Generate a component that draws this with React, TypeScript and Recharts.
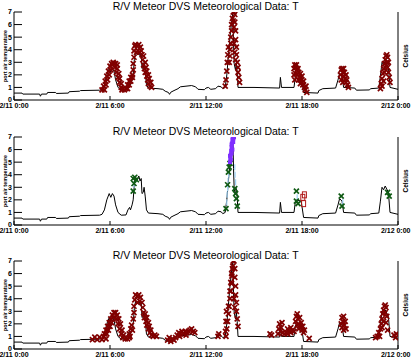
import { ComposedChart, Line, Scatter, XAxis, YAxis } from "recharts";

const hourTicks = [0, 6, 12, 18, 24];
const hourLabels = ["2/11 0:00", "2/11 6:00", "2/11 12:00", "2/11 18:00", "2/12 0:00"];
const tempTicks = [0, 1, 2, 3, 4, 5, 6, 7];
const chartTitle = "R/V Meteor DVS Meteorological Data: T";
const yLabel = "port air temperature";
const unitLabel = "Celsius";

// [hour since 2/11 0:00, temperature]
const tempLine: [number, number][] = [
  [0, 0.55], [0.5, 0.55], [0.55, 0.47], [1.6, 0.47], [1.65, 0.3], [1.72, 0.47], [2.05, 0.47], [2.1, 0.6],
  [2.6, 0.6], [2.65, 0.52], [3.4, 0.55], [3.45, 0.66], [4.1, 0.7], [4.15, 0.75], [5.35, 0.78], [5.5, 0.85],
  [5.65, 1.2], [5.8, 2.0], [5.95, 2.5], [6.05, 2.2], [6.15, 2.5], [6.25, 2.3], [6.35, 1.6], [6.5, 1.0],
  [6.7, 0.78], [7.0, 0.8], [7.12, 1.2], [7.22, 1.4], [7.28, 1.2], [7.38, 1.6], [7.45, 2.0], [7.52, 3.2],
  [7.6, 3.8], [7.7, 3.6], [7.8, 3.9], [7.88, 3.5], [7.95, 3.7], [8.0, 2.5], [8.08, 2.6], [8.13, 3.0],
  [8.2, 2.3], [8.28, 1.2], [8.4, 0.95], [9.0, 0.9], [9.3, 0.85], [9.45, 0.7], [9.65, 0.6], [9.72, 0.45],
  [9.8, 0.62], [10.0, 0.75], [10.25, 0.9], [10.4, 1.05], [11.1, 1.15], [11.35, 1.05], [11.5, 0.85], [11.9, 0.82],
  [12.0, 0.95], [12.15, 1.0], [12.3, 0.85], [12.6, 0.9], [12.75, 1.1], [12.95, 1.05], [13.05, 0.9], [13.2, 1.0],
  [13.3, 2.0], [13.4, 3.5], [13.5, 5.0], [13.6, 6.2], [13.68, 7.0], [13.72, 4.5], [13.76, 2.9], [13.84, 2.4],
  [13.9, 2.9], [13.95, 2.2], [14.0, 1.0], [15.0, 1.0], [16.6, 0.95], [16.65, 1.8], [16.72, 1.0], [17.5, 1.0],
  [17.58, 1.8], [17.65, 2.0], [17.95, 1.9], [18.1, 0.6], [19.0, 0.55], [19.05, 0.75], [19.3, 0.9], [20.1, 0.95],
  [20.25, 1.6], [20.35, 2.1], [20.5, 1.9], [20.6, 1.0], [21.3, 0.95], [21.4, 0.78], [22.2, 0.8], [22.3, 0.9],
  [22.8, 0.95], [22.9, 1.9], [23.0, 3.0], [23.1, 2.8], [23.2, 3.1], [23.4, 2.6], [23.5, 1.0], [24, 0.85],
];

// panel 1 flagged points
const redTop: [number, number][] = [
  [5.5, 0.8], [5.6, 1.1], [5.7, 1.5], [5.8, 1.9], [5.9, 2.3], [6.0, 2.7], [6.1, 2.9],
  [5.65, 0.8], [5.75, 1.2], [5.85, 1.6], [5.95, 2.0], [6.05, 2.4], [6.15, 2.8], [6.25, 2.9],
  [6.2, 3.0], [6.35, 2.9], [6.45, 2.8],
  [6.3, 2.6], [6.4, 2.2], [6.5, 1.8], [6.6, 1.4], [6.7, 1.0], [6.75, 0.8],
  [6.45, 2.5], [6.55, 2.1], [6.6, 1.7], [6.7, 1.3], [6.8, 0.9], [6.9, 0.8],
  [7.0, 0.9], [7.1, 1.2], [7.2, 1.5], [7.3, 1.8], [7.4, 2.0], [7.1, 0.9], [7.2, 1.2], [7.3, 1.5], [7.4, 1.8],
  [7.45, 2.4], [7.45, 2.9], [7.5, 3.4], [7.5, 3.9], [7.55, 4.3],
  [7.6, 4.4], [7.7, 4.3], [7.8, 4.4], [7.9, 4.2], [7.65, 3.8], [7.75, 3.9], [7.85, 3.8], [7.95, 3.9],
  [8.0, 3.6], [8.05, 3.2], [8.1, 2.8], [8.15, 2.5], [8.2, 2.2], [8.3, 1.9], [8.35, 1.6], [8.4, 1.3], [8.5, 1.1], [8.6, 1.0],
  [8.1, 3.5], [8.2, 3.0], [8.25, 2.6], [8.3, 2.3], [8.4, 2.0], [8.45, 1.7], [8.55, 1.4],
  [13.2, 1.1], [13.25, 1.6], [13.3, 2.3], [13.33, 3.0], [13.36, 3.6], [13.4, 4.2],
  [13.45, 3.0], [13.5, 3.5], [13.5, 4.0], [13.55, 4.5], [13.55, 5.0], [13.6, 5.5], [13.6, 6.0], [13.65, 6.5],
  [13.7, 7.0], [13.75, 7.0], [13.8, 6.8], [13.7, 6.3], [13.75, 5.8],
  [13.8, 6.2], [13.85, 5.5], [13.85, 4.8], [13.9, 4.2], [13.9, 3.6], [13.95, 3.0], [14.0, 2.6], [14.0, 2.2],
  [14.05, 1.8], [14.1, 1.4], [13.75, 4.5], [13.8, 3.8], [13.85, 3.2],
  [17.5, 2.0], [17.5, 2.5], [17.55, 2.8], [17.6, 2.6], [17.65, 2.8], [17.7, 2.4], [17.6, 2.1], [17.7, 2.0],
  [17.75, 2.5], [17.8, 2.2], [17.85, 1.8], [17.9, 2.1], [17.95, 1.6], [18.0, 1.9], [18.0, 1.4], [18.05, 1.2],
  [18.1, 1.5], [18.15, 1.0], [18.2, 0.8], [18.25, 1.1], [18.3, 0.6], [17.55, 1.6], [17.8, 1.6], [17.9, 1.3],
  [20.4, 2.0], [20.45, 2.4], [20.5, 2.5], [20.55, 2.2], [20.6, 2.5], [20.6, 1.9], [20.65, 2.2], [20.7, 1.7],
  [20.75, 2.0], [20.75, 1.4], [20.8, 1.6], [20.85, 1.2], [20.9, 1.0], [20.45, 1.6], [20.55, 1.4],
  [22.9, 0.9], [22.95, 1.3], [23.0, 1.7], [23.05, 2.1], [23.1, 2.5], [23.15, 2.9], [23.2, 3.2], [23.25, 3.5],
  [23.3, 3.6], [23.35, 3.4], [23.3, 3.0], [23.2, 2.6], [23.35, 2.6], [23.4, 2.2], [23.45, 1.8], [23.4, 3.0],
  [23.15, 2.2], [23.1, 1.5], [23.0, 1.1], [23.5, 1.4],
];

// panel 2 flagged points
const greenMid: [number, number][] = [
  [7.45, 3.7], [7.55, 3.8], [7.5, 3.3], [7.45, 2.7], [7.65, 3.6],
  [13.25, 1.3], [13.35, 3.2], [13.4, 4.2], [13.45, 4.6], [13.5, 4.9],
  [13.8, 2.9], [13.85, 2.5], [13.9, 2.1], [13.95, 1.5],
  [17.65, 2.7], [17.65, 1.9], [17.75, 1.7], [20.45, 2.3], [20.5, 1.5], [23.35, 2.6], [23.45, 2.3],
];
const purpleMid: [number, number][] = [
  [13.5, 5.0], [13.52, 5.3], [13.55, 5.6], [13.57, 5.9], [13.6, 6.2], [13.62, 6.5], [13.65, 6.8], [13.68, 7.0],
  [13.55, 5.2], [13.6, 5.7], [13.65, 6.0], [13.7, 6.6], [13.72, 6.9], [13.5, 5.5], [13.6, 6.4], [13.75, 7.0],
];
const blueMid: [number, number][] = [
  [7.5, 3.2], [13.3, 1.8], [13.32, 2.4], [13.35, 2.9], [13.38, 3.5], [13.42, 4.0],
  [13.8, 4.6], [13.82, 4.0], [13.85, 3.4], [17.7, 2.2], [20.55, 1.8],
];
const maroonMid: [number, number][] = [[18.05, 2.2], [18.1, 1.7], [18.15, 2.4]];

// panel 3 flagged points
const redLow: [number, number][] = [
  [4.9, 0.75], [5.05, 0.95], [5.2, 0.75], [5.35, 0.95], [5.5, 0.75], [5.6, 1.0], [5.75, 0.8],
  [5.65, 1.2], [5.75, 1.5], [5.85, 1.8], [5.95, 2.1], [6.05, 2.4], [6.15, 2.7], [6.25, 2.9],
  [5.8, 1.2], [5.9, 1.5], [6.0, 1.8], [6.1, 2.1], [6.2, 2.5], [6.35, 2.9], [6.45, 2.7],
  [6.4, 2.4], [6.5, 2.0], [6.6, 1.6], [6.7, 1.2], [6.8, 0.9], [6.55, 2.4], [6.65, 2.0], [6.75, 1.5], [6.85, 1.1],
  [6.95, 0.8], [7.1, 0.8], [7.2, 0.9],
  [7.2, 1.2], [7.3, 1.6], [7.35, 1.9], [7.25, 1.0], [7.4, 1.5],
  [7.45, 2.4], [7.5, 2.9], [7.5, 3.4], [7.55, 3.9], [7.6, 4.3],
  [7.7, 4.2], [7.8, 4.3], [7.9, 4.1], [7.7, 3.7], [7.85, 3.8], [8.0, 3.7],
  [8.05, 3.3], [8.1, 2.9], [8.15, 2.5], [8.25, 2.2], [8.3, 1.9], [8.4, 1.6], [8.5, 1.3],
  [8.2, 2.8], [8.3, 2.5], [8.4, 2.1], [8.45, 1.8], [8.55, 1.5],
  [8.6, 1.1], [8.7, 1.0], [8.8, 1.1], [8.9, 1.0],
  [9.6, 0.7], [9.7, 0.9], [9.8, 0.6], [9.9, 0.8], [10.0, 0.7], [10.1, 0.9],
  [10.2, 1.1], [10.3, 1.3], [10.4, 1.2], [10.5, 1.4], [10.6, 1.2], [10.7, 1.4], [10.8, 1.3], [10.9, 1.4],
  [11.0, 1.5], [11.1, 1.6], [11.2, 1.4], [11.3, 1.3], [10.35, 1.0], [10.75, 1.1],
  [12.8, 1.2], [12.75, 1.0],
  [13.25, 1.0], [13.3, 1.6], [13.35, 2.2], [13.4, 2.8], [13.45, 3.4], [13.5, 4.0], [13.55, 4.6], [13.6, 5.2],
  [13.62, 5.8], [13.65, 6.4], [13.7, 7.0], [13.75, 7.0], [13.4, 3.4], [13.5, 4.6], [13.55, 5.3], [13.6, 6.0],
  [13.68, 6.6], [13.22, 1.4], [13.25, 2.2], [13.28, 3.0],
  [13.8, 6.4], [13.8, 5.7], [13.85, 5.0], [13.85, 4.3], [13.9, 3.7], [13.9, 3.0], [13.95, 2.4], [14.0, 1.8],
  [13.75, 4.0], [13.8, 3.3],
  [16.0, 1.2], [16.1, 1.1],
  [16.5, 1.2], [16.55, 1.6], [16.6, 2.0], [16.65, 1.4], [16.7, 1.7], [16.8, 1.3], [16.9, 1.2], [17.0, 1.3],
  [17.1, 1.2], [17.2, 1.4], [17.3, 1.3], [17.4, 1.5], [17.5, 1.4], [16.75, 2.1], [17.1, 1.6], [17.3, 1.7],
  [17.6, 2.2], [17.65, 2.6], [17.7, 2.8], [17.75, 2.4], [17.8, 2.0], [17.85, 2.5], [17.9, 1.8], [17.95, 2.1],
  [18.0, 1.5], [18.05, 1.8], [18.1, 1.3], [18.15, 1.5], [17.7, 1.9], [17.8, 1.6],
  [18.45, 0.85],
  [20.45, 2.0], [20.5, 2.5], [20.55, 2.2], [20.6, 2.6], [20.65, 1.9], [20.7, 2.2], [20.75, 1.6], [20.6, 1.5], [20.5, 1.7],
  [22.6, 0.9], [22.7, 1.0], [22.8, 1.3], [22.9, 1.6], [22.95, 2.0], [23.0, 2.4], [23.05, 2.8], [23.1, 3.1],
  [23.15, 3.4], [23.2, 3.5], [23.25, 3.3], [23.2, 2.9], [23.3, 2.6], [23.1, 2.2], [23.0, 1.7], [23.25, 2.1],
  [23.35, 1.5], [22.85, 1.0],
  [23.75, 1.1], [23.85, 0.9], [23.9, 1.2],
];

type Kind = "x" | "box" | "rect" | "dash";
interface Marks {
  data: [number, number][];
  color: string;
  kind: Kind;
}

const toPts = (arr: [number, number][]) => arr.map(([h, v]) => ({ h, v }));

const makeShape = (kind: Kind, color: string) => (p: any) => {
  const { cx, cy } = p;
  if (cx == null || cy == null) return <g />;
  if (kind === "box") return <rect x={cx - 2} y={cy - 2} width={4} height={4} fill={color} />;
  if (kind === "rect") return <rect x={cx - 2} y={cy - 3} width={4} height={6} fill="none" stroke={color} strokeWidth={1} />;
  if (kind === "dash") return <line x1={cx} y1={cy - 3} x2={cx} y2={cy + 3} stroke={color} strokeWidth={1.2} />;
  return (
    <g stroke={color} strokeWidth={1.7}>
      <line x1={cx - 2.5} y1={cy - 2.5} x2={cx + 2.5} y2={cy + 2.5} />
      <line x1={cx - 2.5} y1={cy + 2.5} x2={cx + 2.5} y2={cy - 2.5} />
    </g>
  );
};

const tickFont = { fill: "#000", fontSize: 7, fontWeight: "bold" as const, fontFamily: "Liberation Sans" };

// bottom labels; the last one is kept inside the window edge
const HourTick = (p: any) => {
  const { x, y, payload, index } = p;
  const last = index === hourTicks.length - 1;
  return (
    <text
      x={last ? 410.5 : x}
      y={y}
      dy="0.71em"
      textAnchor={last ? "end" : "middle"}
      {...tickFont}
    >
      {hourLabels[hourTicks.indexOf(payload.value)]}
    </text>
  );
};

function Panel({ top, height, marks, lineOnTop }: { top: number; height: number; marks: Marks[]; lineOnTop: boolean }) {
  const line = (
    <Line
      key="line"
      xAxisId="b"
      yAxisId="l"
      data={toPts(tempLine)}
      dataKey="v"
      type="linear"
      stroke="#000"
      strokeWidth={1}
      dot={false}
      isAnimationActive={false}
    />
  );
  const scatters = marks.map((m, i) => (
    <Scatter
      key={i}
      xAxisId="b"
      yAxisId="l"
      data={toPts(m.data)}
      dataKey="v"
      shape={makeShape(m.kind, m.color)}
      isAnimationActive={false}
    />
  ));
  return (
    <div style={{ position: "absolute", left: 0, top, width: 411, height, overflow: "hidden" }}>
      <ComposedChart width={411} height={height} margin={{ top: 12, right: 0, bottom: 0, left: 0 }}>
        <XAxis
          xAxisId="b"
          type="number"
          dataKey="h"
          domain={[0, 24]}
          ticks={hourTicks}
          interval={0}
          allowDataOverflow
          tickSize={-4}
          tickMargin={7.5}
          height={height - 100}
          axisLine={{ stroke: "#000" }}
          tickLine={{ stroke: "#000" }}
          tick={<HourTick />}
        />
        <XAxis
          xAxisId="t"
          orientation="top"
          type="number"
          domain={[0, 24]}
          ticks={hourTicks}
          interval={0}
          tickFormatter={() => ""}
          tickSize={-4}
          height={0}
          axisLine={{ stroke: "#000" }}
          tickLine={{ stroke: "#000" }}
        />
        <YAxis
          yAxisId="l"
          type="number"
          domain={[0, 7]}
          ticks={tempTicks}
          interval={0}
          allowDataOverflow
          tickSize={-8}
          tickMargin={10}
          width={14}
          axisLine={{ stroke: "#000" }}
          tickLine={{ stroke: "#000" }}
          tick={tickFont}
        />
        <YAxis
          yAxisId="r"
          orientation="right"
          type="number"
          domain={[0, 7]}
          ticks={tempTicks}
          interval={0}
          tickFormatter={() => ""}
          tickSize={-8}
          width={13}
          axisLine={{ stroke: "#000" }}
          tickLine={{ stroke: "#000" }}
        />
        {lineOnTop ? [...scatters, line] : [line, ...scatters]}
      </ComposedChart>
    </div>
  );
}

const panelTops = [0, 125, 249];

export default function App() {
  return (
    <div style={{ position: "absolute", left: 0, top: 0, width: 411, height: 360, background: "#fff", overflow: "hidden" }}>
      <Panel top={panelTops[0]} height={124} lineOnTop marks={[{ data: redTop, color: "#800000", kind: "x" }]} />
      <Panel
        top={panelTops[1]}
        height={124}
        lineOnTop={false}
        marks={[
          { data: blueMid, color: "#9fd3f5", kind: "dash" },
          { data: greenMid, color: "#0f5a14", kind: "x" },
          { data: purpleMid, color: "#7f2fff", kind: "box" },
          { data: maroonMid, color: "#b01818", kind: "rect" },
        ]}
      />
      <Panel top={panelTops[2]} height={111} lineOnTop marks={[{ data: redLow, color: "#800000", kind: "x" }]} />
      <svg width={411} height={360} style={{ position: "absolute", left: 0, top: 0, pointerEvents: "none" }}>
        {panelTops.map((t) => (
          <g key={t} fontFamily="Liberation Sans" fill="#000">
            <text x={205.7} y={t + 9.5} fontSize={10.5} textAnchor="middle">
              {chartTitle}
            </text>
            <text
              transform={`translate(4.5, ${t + 56}) rotate(-90)`}
              fontSize={5.5}
              fontWeight="bold"
              textAnchor="middle"
              dominantBaseline="central"
            >
              {yLabel}
            </text>
            <text
              transform={`translate(405.5, ${t + 56}) rotate(-90)`}
              fontSize={6.5}
              fontWeight="bold"
              textAnchor="middle"
              dominantBaseline="central"
            >
              {unitLabel}
            </text>
          </g>
        ))}
      </svg>
    </div>
  );
}
